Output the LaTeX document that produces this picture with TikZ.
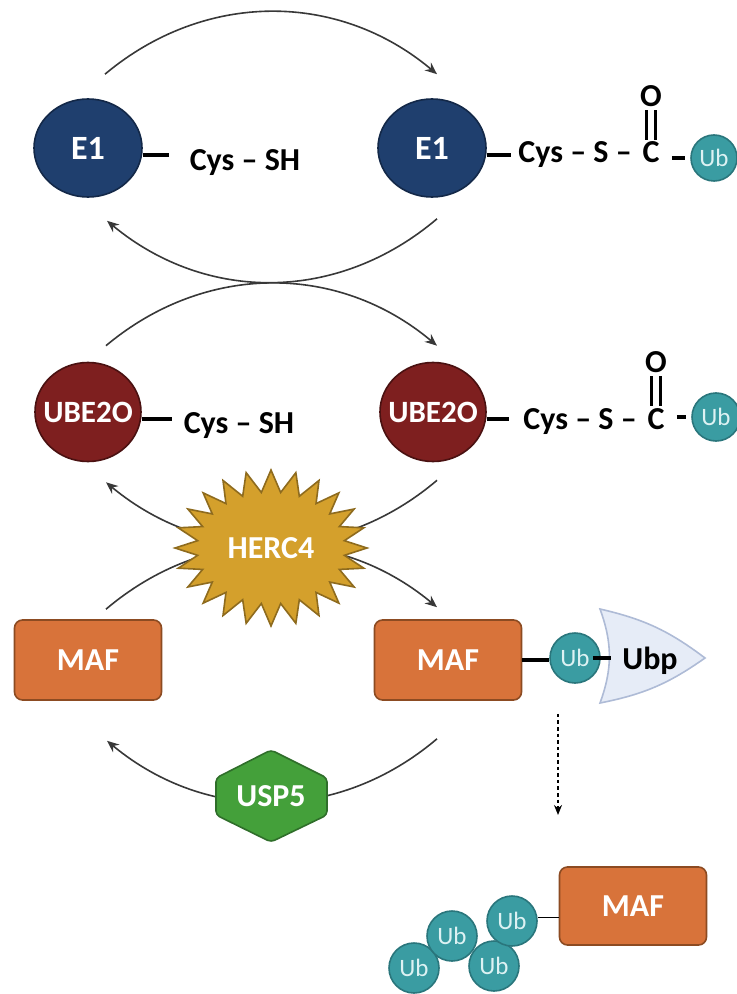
\documentclass[tikz,border=0pt]{standalone}
\usepackage{fontspec}
\setmainfont{Carlito}
\usepackage{tikz}
\usetikzlibrary{shapes.geometric, shapes.symbols, arrows.meta, positioning, calc}

\definecolor{eonefill}{HTML}{1F3F6E}
\definecolor{eoneline}{HTML}{132848}
\definecolor{ubefill}{HTML}{7E1F1F}
\definecolor{ubeline}{HTML}{4A1111}
\definecolor{maffill}{HTML}{D8733A}
\definecolor{mafline}{HTML}{8C4B22}
\definecolor{ubfill}{HTML}{3A9CA2}
\definecolor{ubline}{HTML}{2A767C}
\definecolor{ubtext}{HTML}{DDF2F3}
\definecolor{hercfill}{HTML}{D4A02C}
\definecolor{hercline}{HTML}{8E6B1E}
\definecolor{uspfill}{HTML}{44A03A}
\definecolor{uspline}{HTML}{2F6E2A}
\definecolor{ubpfill}{HTML}{E6ECF7}
\definecolor{ubpline}{HTML}{AEBBD6}
\definecolor{arrowgray}{HTML}{383838}

\begin{document}
\begin{tikzpicture}[x=0.5pt, y=0.5pt,
    eone/.style={ellipse, draw=eoneline, fill=eonefill, line width=0.8pt,
      minimum width=54pt, minimum height=49pt, inner sep=0pt, text=white,
      font=\fontsize{17}{19}\selectfont\bfseries},
    etwo/.style={ellipse, draw=ubeline, fill=ubefill, line width=0.8pt,
      minimum width=53pt, minimum height=49.5pt, inner sep=0pt, text=white,
      font=\fontsize{15.5}{18}\selectfont\bfseries},
    mafbox/.style={rectangle, rounded corners=4pt, draw=mafline, fill=maffill,
      line width=0.8pt, minimum width=73.5pt, minimum height=40pt, text=white,
      font=\fontsize{16}{18}\selectfont\bfseries},
    ubball/.style={circle, draw=ubline, fill=ubfill, line width=0.8pt,
      minimum size=25pt, inner sep=0pt, text=ubtext,
      font=\fontsize{12.5}{14}\selectfont},
    chem/.style={font=\fontsize{16}{18}\selectfont\bfseries, inner sep=1pt},
    bond/.style={line width=2pt, black},
    dblbond/.style={line width=1.5pt, black},
    cyclearrow/.style={line width=0.8pt, arrowgray,
      -{Stealth[length=6pt,width=5pt]}},
  ]
  \useasboundingbox (0,0) rectangle (736,-994);

  % E1 row
  \node[eone] (e1l) at (88,-148) {\makebox[0pt]{E1}};
  \node[eone] (e1r) at (432,-148) {\makebox[0pt]{E1}};
  \draw[bond] ([yshift=-3.5pt]e1l.east) -- ++(13pt,0);
  \node[chem] (cysl1) at (245,-163) {Cys -- SH};
  \draw[bond] ([yshift=-3.5pt]e1r.east) -- ++(12pt,0);
  \node[chem, anchor=base west] (cysr1) at (516,-163) {Cys -- S --};
  \node[chem, anchor=base west] (cr1) at ([xshift=3pt]cysr1.base east) {C};
  \node[chem, above=15pt of cr1] (or1) {O};
  \draw[dblbond] ([xshift=-2.3pt]cr1.north) -- ([xshift=-2.3pt]or1.south);
  \draw[dblbond] ([xshift=2.3pt]cr1.north) -- ([xshift=2.3pt]or1.south);
  \node[ubball, minimum size=23pt] (ubr1) at (714,-158) {Ub};
  \draw[bond, shorten <=5pt, shorten >=2.5pt] (cr1.east |- ubr1) -- (ubr1.west);

  % UBE2O row
  \node[etwo] (ube2l) at (88,-412) {\makebox[0pt]{UBE2O}};
  \node[etwo] (ube2r) at (433,-412) {\makebox[0pt]{UBE2O}};
  \draw[bond] ([yshift=-3.5pt]ube2l.east) -- ++(15pt,0);
  \node[chem] (cysl2) at (239,-426) {Cys -- SH};
  \draw[bond] ([yshift=-3.5pt]ube2r.east) -- ++(11pt,0);
  \node[chem, anchor=base west] (cysr2) at (521,-429) {Cys -- S --};
  \node[chem, anchor=base west] (cr2) at ([xshift=3pt]cysr2.base east) {C};
  \node[chem, above=15pt of cr2] (or2) {O};
  \draw[dblbond] ([xshift=-2.3pt]cr2.north) -- ([xshift=-2.3pt]or2.south);
  \draw[dblbond] ([xshift=2.3pt]cr2.north) -- ([xshift=2.3pt]or2.south);
  \node[ubball, minimum size=24pt] (ubr2) at (716,-417) {Ub};
  \draw[bond, shorten <=5pt, shorten >=2.5pt] (cr2.east |- ubr2) -- (ubr2.west);

  % MAF row
  \node[mafbox] (mafl) at (88,-660) {MAF};
  \node[mafbox] (mafr) at (448,-660) {MAF};
  \draw[ubpline, fill=ubpfill, line width=0.8pt] (600,-609) to[bend left=12]
    (705,-658) to[bend left=12] (600,-703) to[bend right=20] cycle;
  \node[chem] (ubp) at (650,-661) {Ubp};
  \node[ubball] (ubm) at (575,-658) {Ub};
  \draw[bond] (mafr.east) -- (mafr.east -| ubm.west);
  \draw[bond] ([xshift=-4pt]ubm.east) -- ++(9pt,0);

  % cycle arrows
  \draw[cyclearrow] ([shift={(8.5pt,12pt)}]e1l.north) to[bend left=40]
    ([shift={(2.5pt,12pt)}]e1r.north);
  \draw[cyclearrow] ([shift={(2.5pt,-10.5pt)}]e1r.south) to[bend left=40]
    ([shift={(9.5pt,-11.5pt)}]e1l.south);
  \draw[cyclearrow] ([shift={(9pt,8pt)}]ube2l.north) to[bend left=40]
    ([shift={(2pt,8pt)}]ube2r.north);
  \draw[cyclearrow] ([shift={(2pt,-9pt)}]ube2r.south) to[bend left=40]
    ([shift={(9pt,-10pt)}]ube2l.south);
  \draw[cyclearrow] ([shift={(9pt,5pt)}]mafl.north) to[bend left=40]
    ([shift={(-5.5pt,6pt)}]mafr.north);
  \draw[cyclearrow] ([shift={(-5.5pt,-19pt)}]mafr.south) to[bend left=40]
    ([shift={(9.5pt,-20pt)}]mafl.south);

  % HERC4 and USP5
  \node[starburst, starburst points=24, starburst point height=11pt,
    random starburst=0, minimum width=96pt, minimum height=78pt,
    draw=hercline, fill=hercfill, line width=0.8pt, text=white,
    font=\fontsize{16}{18}\selectfont\bfseries] (herc) at (271,-548) {HERC4};
  \coordinate (usp) at (271,-796);
  \fill[uspfill, draw=uspline, line width=0.8pt, rounded corners=2pt]
    ($(usp)+(0,46)$) -- ($(usp)+(56,18)$) -- ($(usp)+(56,-19)$) --
    ($(usp)+(0,-46)$) -- ($(usp)+(-55,-19)$) -- ($(usp)+(-55,18)$) -- cycle;
  \node[text=white, font=\fontsize{16}{18}\selectfont\bfseries] (usplabel)
    at (usp) {USP5};

  % degradation
  \coordinate (drop) at (558,-815);
  \draw[line width=1pt, black, dash pattern=on 1.8pt off 1.5pt,
    -{Stealth[length=5pt,width=4pt]}] ([shift={(-8.5pt,-15pt)}]ubm.south) -- (drop);
  \node[mafbox, minimum height=39pt] (mafb) at (633,-906) {MAF};
  \node[ubball] (ubq4) at (414,-968) {Ub};
  \node[ubball] (ubq2) at (452,-936) {Ub};
  \node[ubball] (ubq3) at (494,-966) {Ub};
  \node[ubball] (ubq1) at (512,-921) {Ub};
  \draw[line width=0.5pt] ([yshift=2pt]ubq1.east) -- ([yshift=2pt]ubq1.east -| mafb.west);
\end{tikzpicture}
\end{document}
